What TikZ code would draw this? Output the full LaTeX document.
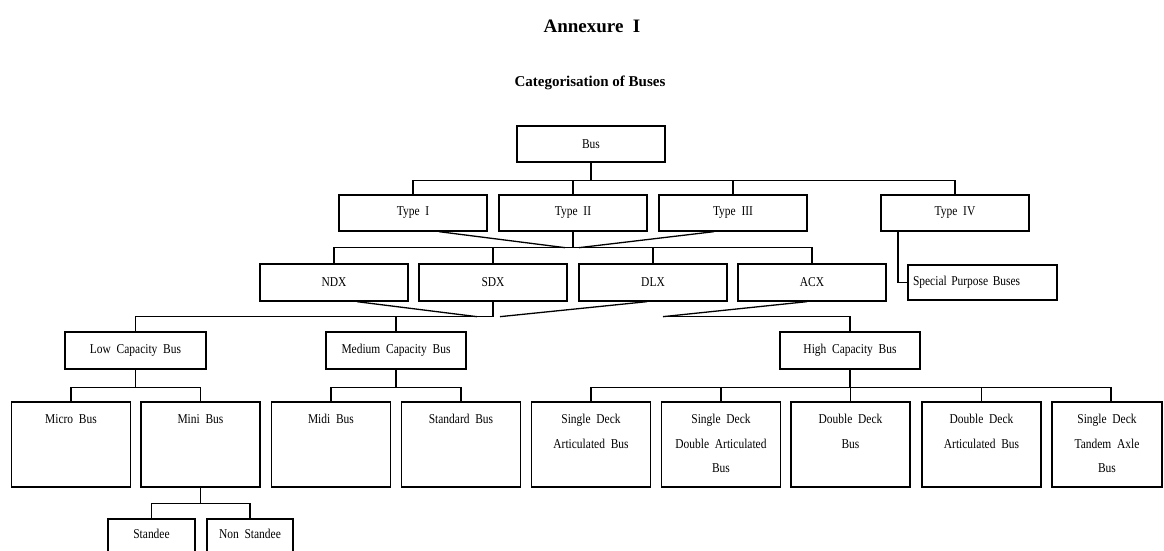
\documentclass[tikz,border=0pt]{standalone}
\usepackage{fontspec}
\setmainfont{Liberation Serif}
\newfontfamily\boxfont[FakeStretch=0.85,WordSpace=2]{Liberation Serif}
\usetikzlibrary{positioning}

\begin{document}
\begin{tikzpicture}[x=1pt,y=-1pt,
    box/.style={draw,line width=1.3pt,minimum width=148pt,minimum height=36pt,
      inner sep=0pt,font=\boxfont\fontsize{13.5}{24.5}\selectfont},
    bigbox/.style={draw,line width=1.3pt,minimum width=119pt,minimum height=85pt,inner sep=0pt},
    tag/.style={inner sep=0pt,align=center,font=\boxfont\fontsize{13.5}{24.5}\selectfont},
    link/.style={line width=1.3pt}]

    \clip (0,0) rectangle (1164,550);

    % headings
    \node[anchor=base,font=\bfseries\fontsize{19}{22}\selectfont] (annex) at (592,32) {Annexure\ \ I};
    \node[anchor=base,font=\bfseries\fontsize{15}{18}\selectfont] (heading) at (590,86) {Categorisation of Buses};

    % bus and its types
    \node[box] (bus) at (591,144) {Bus};
    \foreach \n/\x/\t in {t1/413/Type I, t2/573/Type II, t3/733/Type III, t4/955/Type IV} {
      \node[box] (\n) at (\x,213) {\t};
    }
    \node[box,minimum width=149pt,minimum height=35pt,text width=139pt,align=left] (spb) at (982.5,282.5) {Special Purpose Buses};

    \foreach \n/\x/\t in {ndx/334/NDX, sdx/493/SDX, dlx/653/DLX, acx/812/ACX} {
      \node[box,minimum height=37pt] (\n) at (\x,282.5) {\t};
    }

    % capacity classes
    \node[box,minimum width=141pt,minimum height=37pt] (low) at (135.5,350.5) {Low Capacity Bus};
    \node[box,minimum width=140pt,minimum height=37pt] (med) at (396,350.5) {Medium Capacity Bus};
    \node[box,minimum width=140pt,minimum height=37pt] (high) at (850,350.5) {High Capacity Bus};

    \foreach \n/\x/\t in {micro/71/{Micro Bus}, mini/200.5/{Mini Bus}, midi/331/{Midi Bus},
        std/461/{Standard Bus}, sda/591/{Single Deck\\Articulated Bus},
        sdda/721/{Single Deck\\Double Articulated\\Bus}, ddb/850.5/{Double Deck\\Bus},
        ddab/981.5/{Double Deck\\Articulated Bus}} {
      \node[bigbox] (\n) at (\x,444.5) {};
      \node[tag,below=13pt of \n.north] (\n-txt) {\t};
    }
    \node[bigbox,minimum width=110pt] (sdta) at (1107,444.5) {};
    \node[tag,below=13pt of sdta.north] (sdta-txt) {Single Deck\\Tandem Axle\\Bus};

    \node[bigbox,minimum width=87pt,minimum height=60pt] (standee) at (151.5,549) {};
    \node[tag,below=11pt of standee.north] (standee-txt) {Standee};
    \node[bigbox,minimum width=86pt,minimum height=60pt] (nonstd) at (250,549) {};
    \node[tag,below=11pt of nonstd.north] (nonstd-txt) {Non Standee};

    % connectors
    \draw[link] (bus.south) -- ++(0,18) coordinate (busfork);
    \foreach \n in {t1,t2,t3,t4} {
      \draw[link] (\n.north) |- (busfork);
    }
    \draw[link] ([xshift=-57pt]t4.south) |- ([xshift=-0.6pt]spb.west);

    \draw[link] (t2.south) -- ++(0,16) coordinate (typefork);
    \foreach \n in {ndx,sdx,dlx,acx} {
      \draw[link] (\n.north) |- (typefork);
    }
    \draw[link] ([xshift=26pt]t1.south) -- ([xshift=-8pt]typefork);
    \draw[link] ([xshift=-19pt]t3.south) -- ([xshift=6pt]typefork);

    \draw[link] (sdx.south) -- ++(0,15) coordinate (dxfork);
    \draw[link] (low.north) |- (dxfork);
    \draw[link] (med.north) |- (dxfork);
    \draw[link] (high.north) |- ([xshift=170pt]dxfork);
    \draw[link] ([xshift=23pt]ndx.south) -- ([xshift=-16pt]dxfork);
    \draw[link] ([xshift=-6pt]dlx.south) -- ([xshift=7pt]dxfork);
    \draw[link] ([xshift=-5pt]acx.south) -- ([xshift=170pt]dxfork);

    \draw[link] (low.south) -- ++(0,18) coordinate (lowfork);
    \draw[link] (micro.north) |- (lowfork) -| (mini.north);
    \draw[link] (med.south) -- ++(0,18) coordinate (medfork);
    \draw[link] (midi.north) |- (medfork) -| (std.north);
    \draw[link] (high.south) -- ++(0,18) coordinate (highfork);
    \foreach \n in {sda,sdda,ddb,ddab} {
      \draw[link] (\n.north) |- (highfork);
    }
    \draw[link] ([xshift=4pt]sdta.north) |- (highfork);
    \draw[link] (mini.south) -- ++(0,16) coordinate (minifork);
    \draw[link] (standee.north) |- (minifork) -| (nonstd.north);

  \end{tikzpicture}
\end{document}
